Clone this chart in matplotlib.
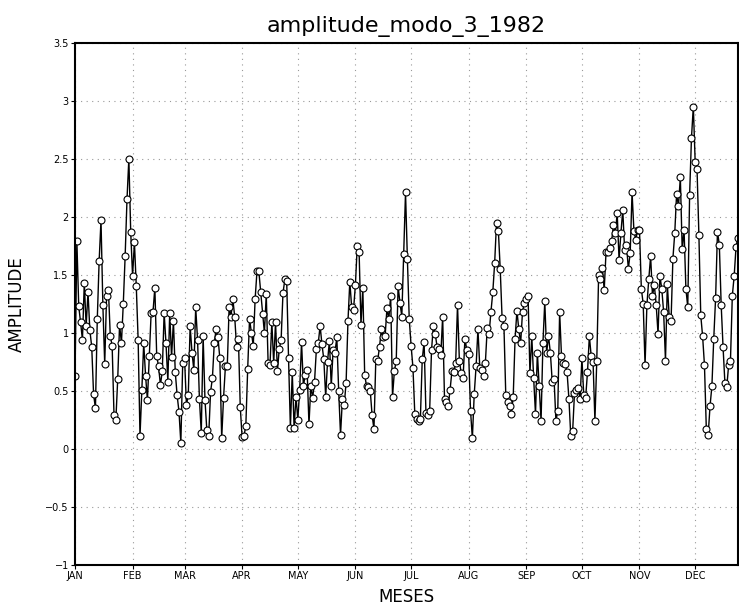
import numpy as np
import matplotlib
matplotlib.use("Agg")
import matplotlib.pyplot as plt

# daily amplitude, mode 3, 1982
jan = [0.63, 1.79, 1.23, 1.09, 0.94, 1.43, 1.06, 1.35, 1.02, 0.88, 0.47, 0.35, 1.12, 1.62, 1.97,
       1.24, 0.73, 1.32, 1.37, 0.97, 0.89, 0.29, 0.25, 0.60, 1.07, 0.91, 1.25, 1.66, 2.15, 2.50, 1.87]
feb = [1.49, 1.78, 1.40, 0.94, 0.11, 0.51, 0.91, 0.63, 0.42, 0.80, 1.17, 1.18, 1.39, 0.80,
       0.71, 0.55, 0.67, 1.17, 0.91, 0.58, 1.17, 0.79, 1.10, 0.66, 0.46, 0.32, 0.05, 0.74]
mar = [0.78, 0.38, 0.46, 1.06, 0.83, 0.68, 1.22, 0.94, 0.43, 0.14, 0.97, 0.42, 0.16, 0.11, 0.49,
       0.61, 0.91, 1.03, 0.96, 0.78, 0.09, 0.44, 0.71, 0.71, 1.22, 1.14, 1.29, 1.14, 0.88, 0.95, 0.36]
apr = [0.10, 0.11, 0.20, 0.69, 1.12, 1.00, 0.89, 1.29, 1.53, 1.53, 1.35, 1.16, 1.00, 1.33, 0.74,
       0.72, 1.09, 0.74, 1.09, 0.67, 0.86, 0.94, 1.34, 1.46, 1.45, 0.78, 0.18, 0.66, 0.18, 0.45]
may = [0.25, 0.51, 0.92, 0.54, 0.64, 0.68, 0.21, 0.54, 0.44, 0.58, 0.86, 0.91, 1.06, 0.90, 0.77,
       0.45, 0.75, 0.93, 0.54, 0.85, 0.83, 0.96, 0.50, 0.12, 0.43, 0.38, 0.57, 1.10, 1.44, 1.22, 1.20]
jun = [1.41, 1.75, 1.70, 1.07, 1.39, 0.64, 0.54, 0.53, 0.50, 0.29, 0.17, 0.77, 0.76, 0.88, 1.03,
       0.96, 0.97, 1.21, 1.12, 1.32, 0.45, 0.67, 0.76, 1.40, 1.26, 1.14, 1.68, 2.21, 1.64, 1.12]
jul = [0.89, 0.70, 0.30, 0.26, 0.24, 0.26, 0.77, 0.92, 0.31, 0.29, 0.33, 0.85, 1.06, 0.99, 0.88,
       0.86, 0.81, 1.14, 0.43, 0.40, 0.37, 0.51, 0.67, 0.66, 0.74, 1.24, 0.76, 0.65, 0.61, 0.95, 0.85]
aug = [0.82, 0.33, 0.09, 0.47, 0.71, 1.03, 0.70, 0.68, 0.63, 0.74, 1.04, 0.99, 1.18, 1.35, 1.60,
       1.95, 1.88, 1.55, 1.13, 1.06, 0.46, 0.40, 0.37, 0.30, 0.45, 0.95, 1.19, 1.03, 0.91, 1.18, 1.26]
sep = [1.29, 1.32, 0.65, 0.97, 0.61, 0.30, 0.83, 0.54, 0.24, 0.91, 1.27, 0.83, 0.97, 0.83, 0.58,
       0.60, 0.24, 0.33, 1.18, 0.80, 0.74, 0.73, 0.66, 0.43, 0.11, 0.15, 0.48, 0.51, 0.52, 0.43]
oct_ = [0.78, 0.46, 0.44, 0.66, 0.97, 0.80, 0.75, 0.24, 0.76, 1.50, 1.46, 1.56, 1.37, 1.70, 1.70,
        1.73, 1.79, 1.93, 1.86, 2.03, 1.63, 1.86, 2.06, 1.71, 1.76, 1.55, 1.69, 2.21, 1.88, 1.80, 1.89]
nov = [1.89, 1.38, 1.25, 0.72, 1.24, 1.46, 1.66, 1.32, 1.41, 1.24, 0.99, 1.49, 1.38, 1.18, 0.76,
       1.42, 1.14, 1.10, 1.64, 1.86, 2.20, 2.09, 2.34, 1.72, 1.89, 1.38, 1.22, 2.19, 2.68, 2.95]
dec = [2.47, 2.41, 1.84, 1.15, 0.97, 0.72, 0.17, 0.12, 0.37, 0.54, 0.95, 1.30, 1.87, 1.76, 1.24,
       0.88, 0.57, 0.53, 0.72, 0.76, 1.32, 1.49, 1.74, 1.82]

amplitude = np.array(jan + feb + mar + apr + may + jun + jul + aug + sep + oct_ + nov + dec)
days = np.arange(len(amplitude))

month_labels = ['JAN', 'FEB', 'MAR', 'APR', 'MAY', 'JUN', 'JUL', 'AUG', 'SEP', 'OCT', 'NOV', 'DEC']
month_start = [0, 31, 59, 90, 120, 151, 181, 212, 243, 273, 304, 334]
yticks = [-1, -0.5, 0, 0.5, 1, 1.5, 2, 2.5, 3, 3.5]
ytick_labels = ['\u22121', '\u22120.5', '0', '0.5', '1', '1.5', '2', '2.5', '3', '3.5']

fig = plt.figure(figsize=(7.39, 6.10), dpi=100)
ax = fig.add_axes([0.1015, 0.074, 0.897, 0.856])

ax.plot(days, amplitude, color='black', linewidth=1.0,
        marker='o', markersize=5.0, markerfacecolor='white',
        markeredgecolor='black', markeredgewidth=0.8)

ax.set_xlim(0, len(amplitude) - 1)
ax.set_ylim(-1, 3.5)
ax.set_xticks(month_start)
ax.set_xticklabels(month_labels, fontsize=7)
ax.set_yticks(yticks)
ax.set_yticklabels(ytick_labels, fontsize=7)
ax.tick_params(direction='out', length=3, width=0.8, pad=1.5)

ax.grid(True, linestyle=(0, (1, 4)), color='#999999', linewidth=0.8)
for s in ax.spines.values():
    s.set_linewidth(1.5)

ax.set_title('amplitude_modo_3_1982', fontsize=16, pad=8)
ax.set_xlabel('MESES', fontsize=12, labelpad=5)
ax.set_ylabel('AMPLITUDE', fontsize=12, labelpad=14)

fig.savefig('out.png', dpi=100)
